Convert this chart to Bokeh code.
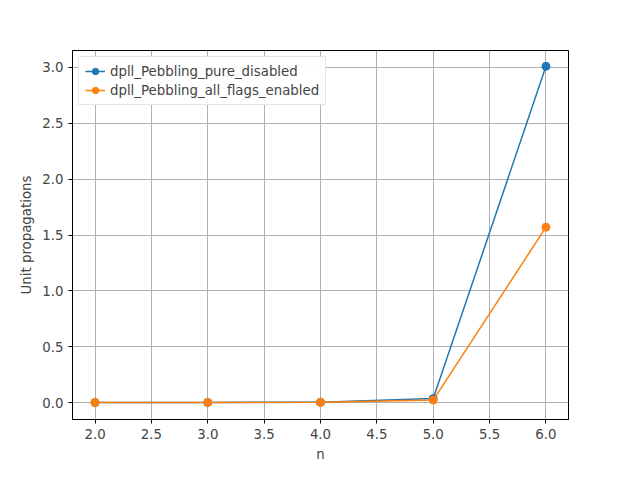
from bokeh.plotting import figure
from bokeh.models import Label, FixedTicker, Range1d, Legend, LegendItem
from bokeh.embed import file_html
from bokeh.resources import INLINE

n = [2, 3, 4, 5, 6]
pure_disabled = [300, 900, 2500, 35000, 3010000]
all_flags = [200, 600, 1800, 22000, 1570000]

p = figure(width=624, height=464, output_backend="svg", toolbar_location=None,
           x_range=Range1d(1.8, 6.2), y_range=Range1d(-0.152e6, 3.152e6),
           min_border_left=72, min_border_right=56, min_border_top=50, min_border_bottom=45)

xt = [2.0, 2.5, 3.0, 3.5, 4.0, 4.5, 5.0, 5.5, 6.0]
p.xaxis.ticker = FixedTicker(ticks=xt)
p.xaxis.major_label_overrides = {v: "%.1f" % v for v in xt}
yt = [0, 0.5e6, 1.0e6, 1.5e6, 2.0e6, 2.5e6, 3.0e6]
p.yaxis.ticker = FixedTicker(ticks=yt)
p.yaxis.major_label_overrides = {v: "%.1f" % (v / 1e6) for v in yt}
p.xaxis.axis_label = "n"
p.yaxis.axis_label = "Unit propagations"
for ax in (p.xaxis[0], p.yaxis[0]):
    ax.axis_label_text_font_style = "normal"
    ax.axis_label_text_font = "DejaVu Sans"
    ax.axis_label_text_font_size = "10pt"
    ax.major_label_text_font = "DejaVu Sans"
    ax.major_label_text_font_size = "10pt"
    ax.minor_tick_line_color = None
    ax.major_tick_in = 0
    ax.major_tick_out = 4
p.grid.grid_line_color = "#b0b0b0"
p.outline_line_color = "black"

r1 = p.line(n, pure_disabled, line_width=1.5, color="#1f77b4")
c1 = p.scatter(n, pure_disabled, size=8, color="#1f77b4")
r2 = p.line(n, all_flags, line_width=1.5, color="#ff7f0e")
c2 = p.scatter(n, all_flags, size=8, color="#ff7f0e")

legend = Legend(items=[LegendItem(label="dpll_Pebbling_pure_disabled", renderers=[r1, c1]),
                       LegendItem(label="dpll_Pebbling_all_flags_enabled", renderers=[r2, c2])],
                location="top_left", label_text_font="DejaVu Sans", label_text_font_size="10pt",
                border_line_color="#cccccc", glyph_height=16, label_height=16, spacing=3,
                padding=6, margin=6)
p.add_layout(legend)

# screen coordinates here are relative to the frame, bottom-up
p.add_layout(Label(x=248, y=377, x_units="screen", y_units="screen",
                   text="Unit Propagations vs n for DPLL and Pebbling", text_align="center",
                   text_font="DejaVu Sans", text_font_size="12pt"))
p.add_layout(Label(x=0, y=374, x_units="screen", y_units="screen", text="1e6",
                   text_font="DejaVu Sans", text_font_size="10pt"))

open("out.html", "w").write(file_html(p, INLINE))
